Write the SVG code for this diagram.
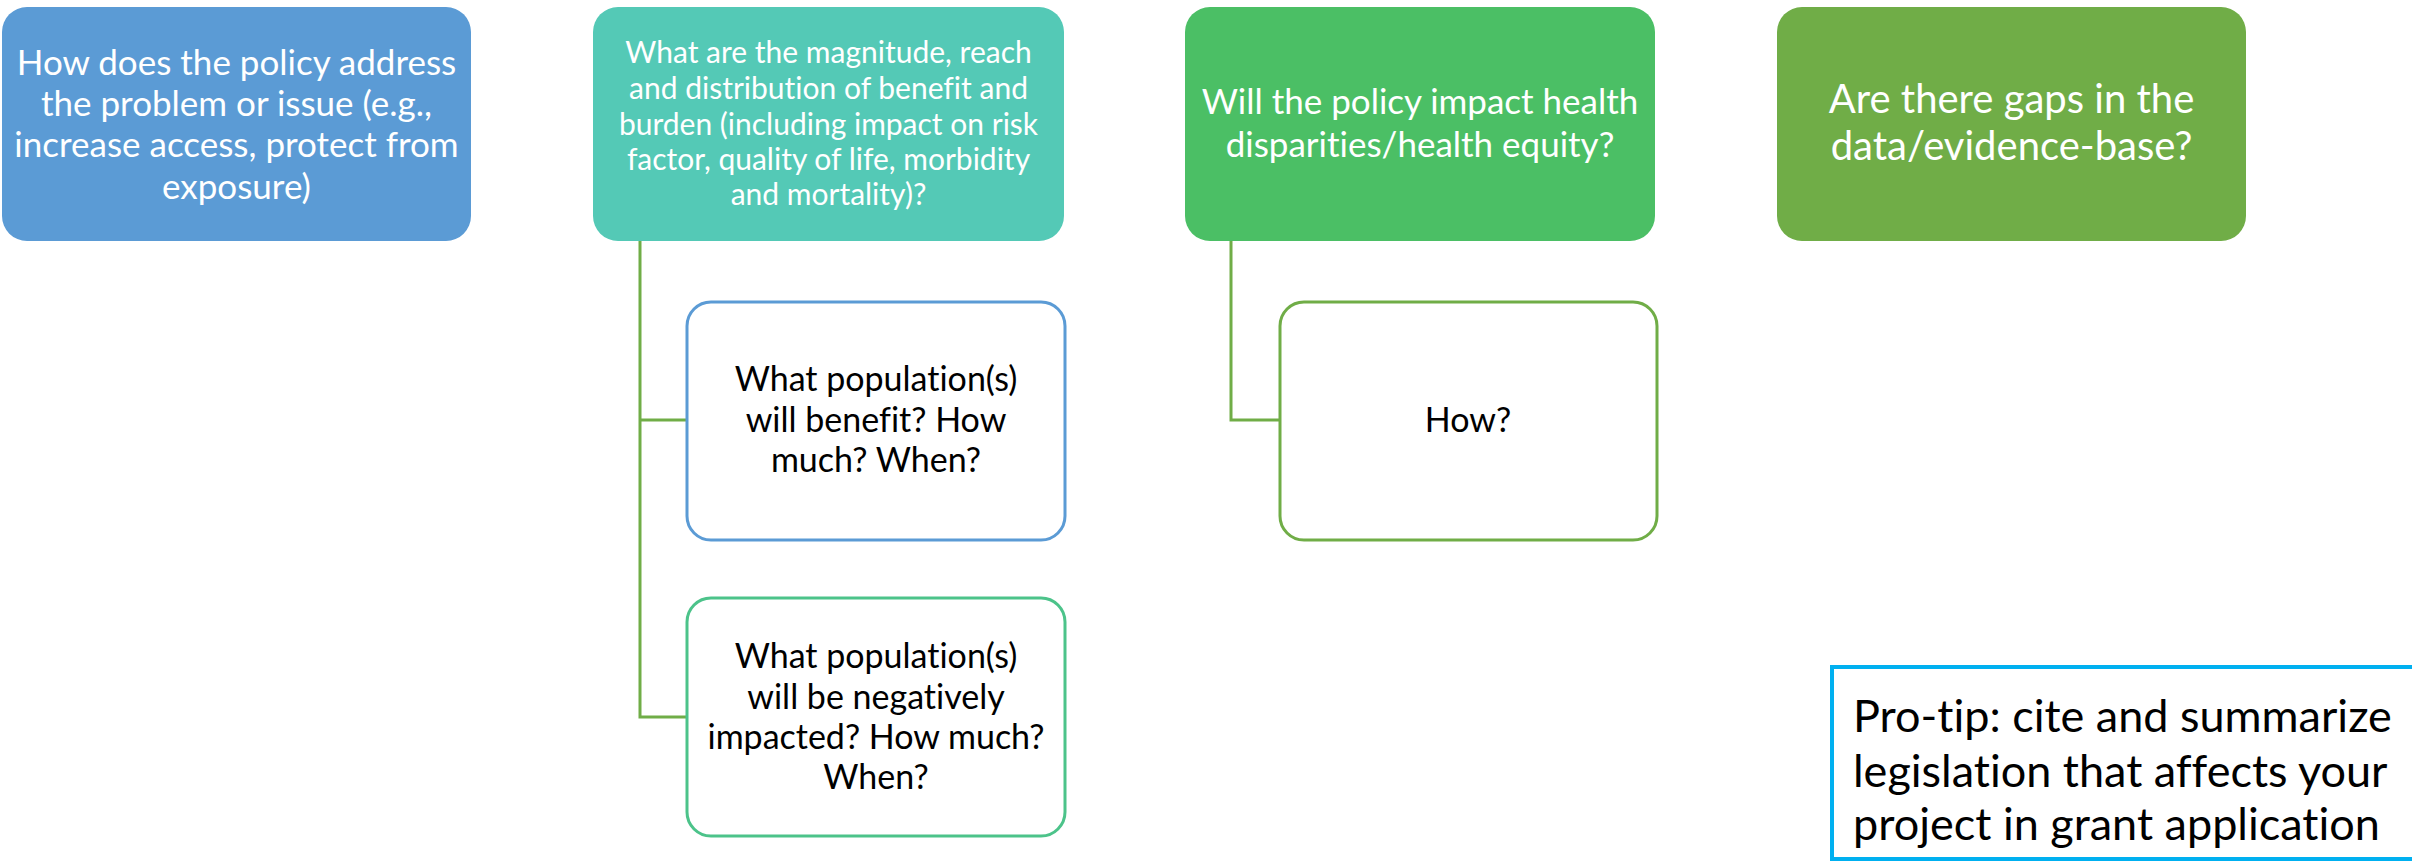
<svg xmlns="http://www.w3.org/2000/svg" width="2412" height="862" viewBox="0 0 2412 862">
<style>
text{font-family:Lato,"Liberation Sans",sans-serif;text-anchor:middle;font-variant-ligatures:none}
.w{fill:#fff}
.k{fill:#000}
.conn{fill:none;stroke:#70AD47;stroke-width:3}
.out{fill:#fff;stroke-width:3}
</style>
<rect width="2412" height="862" fill="#fff"/>
<g id="connectors">
<path class="conn" d="M640,241 V718 M638.5,420 H687 M638.5,717 H687"/>
<path class="conn" d="M1231,241 V420 H1280"/>
</g>
<g id="n1">
<rect x="2" y="7" width="469" height="234" rx="25" fill="#5B9BD5"/>
<text class="w" font-size="35"><tspan x="236.5" y="75">How does the policy address</tspan><tspan x="236.5" y="116">the problem or issue (e.g.,</tspan><tspan x="236.5" y="157">increase access, protect from</tspan><tspan x="236.5" y="199">exposure)</tspan></text>
</g>
<g id="n2">
<rect x="593" y="7" width="471" height="234" rx="25" fill="#54C9B6"/>
<text class="w" font-size="30"><tspan x="828.5" y="63">What are the magnitude, reach</tspan><tspan x="828.5" y="99">and distribution of benefit and</tspan><tspan x="828.5" y="135">burden (including impact on risk</tspan><tspan x="828.5" y="170">factor, quality of life, morbidity</tspan><tspan x="828.5" y="205">and mortality)?</tspan></text>
</g>
<g id="n3">
<rect x="1185" y="7" width="470" height="234" rx="25" fill="#4BBF65"/>
<text class="w" font-size="35"><tspan x="1420" y="114">Will the policy impact health</tspan><tspan x="1420" y="157">disparities/health equity?</tspan></text>
</g>
<g id="n4">
<rect x="1777" y="7" width="469" height="234" rx="25" fill="#70AD47"/>
<text class="w" font-size="40"><tspan x="2011.5" y="113">Are there gaps in the</tspan><tspan x="2011.5" y="160">data/evidence-base?</tspan></text>
</g>
<g id="c1">
<rect class="out" x="687" y="302" width="378" height="238" rx="24" stroke="#5B9BD5"/>
<text class="k" font-size="34"><tspan x="876" y="391">What population(s)</tspan><tspan x="876" y="432">will benefit? How</tspan><tspan x="876" y="472">much? When?</tspan></text>
</g>
<g id="c2">
<rect class="out" x="687" y="598" width="378" height="238" rx="24" stroke="#4CC38A"/>
<text class="k" font-size="34"><tspan x="876" y="668">What population(s)</tspan><tspan x="876" y="709">will be negatively</tspan><tspan x="876" y="749">impacted? How much?</tspan><tspan x="876" y="789">When?</tspan></text>
</g>
<g id="c3">
<rect class="out" x="1280" y="302" width="377" height="238" rx="24" stroke="#70AD47"/>
<text class="k" font-size="34"><tspan x="1468" y="432">How?</tspan></text>
</g>
<g id="tip">
<rect x="1832" y="667" width="582" height="192" fill="#fff" stroke="#00B0F0" stroke-width="4"/>
<text class="k" font-size="45" style="text-anchor:start"><tspan x="1853" y="732">Pro-tip: cite and summarize</tspan><tspan x="1853" y="787">legislation that affects your</tspan><tspan x="1853" y="840">project in grant application</tspan></text>
</g>
</svg>
